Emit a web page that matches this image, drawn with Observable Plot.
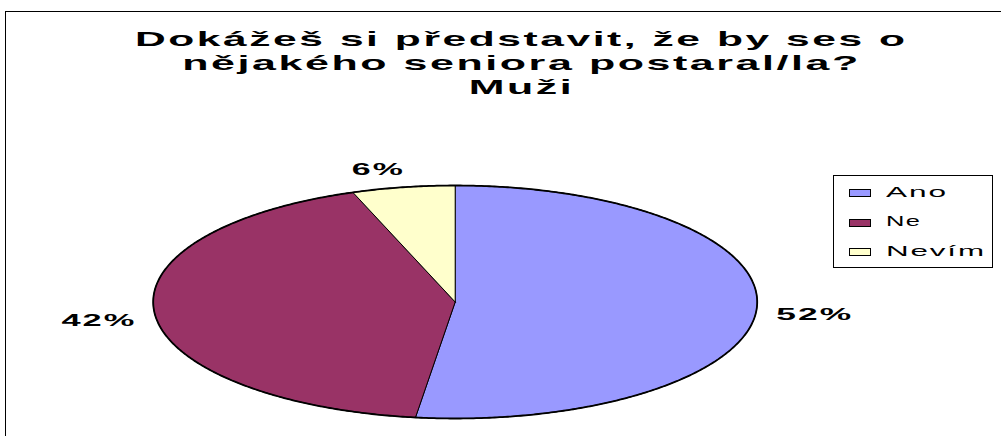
<!DOCTYPE html>
<html>
<head>
<meta charset="utf-8">
<script src="https://cdn.jsdelivr.net/npm/d3@7"></script>
<script src="https://cdn.jsdelivr.net/npm/@observablehq/plot@0.6"></script>
<style>
html, body { margin: 0; padding: 0; background: #fff; }
#chart { position: relative; width: 1001px; height: 436px; overflow: hidden;
  font-family: "Liberation Sans", Arial, Helvetica, sans-serif; color: #000; }
#frame { position: absolute; left: 5px; top: 11px; width: 1200px; height: 800px;
  border-left: 1px solid #000; border-top: 1px solid #000; box-sizing: border-box; }
#chart svg { position: absolute; left: 0; top: 0; }
.tline { position: absolute; display: block; white-space: nowrap; font-weight: bold; font-size: 21px;
  line-height: 24px; letter-spacing: 0.06em; }
#legend { position: absolute; left: 833px; top: 175px; width: 160px; height: 93px;
  border: 1px solid #000; box-sizing: border-box; background: #fff; }
.sw { position: absolute; left: 15px; width: 22px; height: 8px; border: 1px solid #000; box-sizing: border-box; }
.lt { position: absolute; display: block; left: 52px; white-space: nowrap; font-size: 14.5px; line-height: 16px;
  letter-spacing: 0.06em; transform-origin: left center; }
</style>
</head>
<body>
<div id="chart">
  <div id="frame"></div>
</div>
<script>
// ---- data ----
const titleLines = ["Dokážeš si představit, že by ses o", "nějakého seniora postaral/la?", "Muži"];
const categories = ["Ano", "Ne", "Nevím"];
const values = [52.1, 42.4, 5.5];
const colors = ["#9999FF", "#993366", "#FFFFCC"];

// ---- layout constants ----
const W = 1001, H = 436;
const CX0 = 152.7, CX1 = 756.7, CY0 = 418, CY1 = 185;
const chart = document.getElementById("chart");

// ---- pie geometry in unit coordinates ----
const total = d3.sum(values);
let acc = 0;
const slices = categories.map((c, i) => {
  const a0 = acc / total * 2 * Math.PI;
  acc += values[i];
  const a1 = acc / total * 2 * Math.PI;
  return {c, v: values[i], a0, a1};
});
const pts = [];
for (const s of slices) {
  pts.push({c: s.c, x: 0, y: 0});
  const n = Math.max(2, Math.ceil((s.a1 - s.a0) / (Math.PI / 360)));
  for (let k = 0; k <= n; k++) {
    const a = s.a0 + (s.a1 - s.a0) * k / n;
    pts.push({c: s.c, x: Math.sin(a), y: Math.cos(a)});
  }
  pts.push({c: s.c, x: 0, y: 0});
}
const outline = d3.range(0, 721).map(k => {
  const a = k / 720 * 2 * Math.PI;
  return {x: Math.sin(a), y: Math.cos(a)};
});
const labelR = 1.19;
const labels = slices.map(s => {
  const m = (s.a0 + s.a1) / 2;
  const r = Math.abs(Math.sin(m)) < 0.3 ? 1.5 : labelR;
  return {c: s.c, x: r * Math.sin(m), y: labelR * Math.cos(m), t: Math.round(s.v / total * 100) + "%"};
});

const svg = Plot.plot({
  width: W, height: H, margin: 0,
  x: {domain: [-1, 1], range: [CX0, CX1], axis: null},
  y: {domain: [-1, 1], range: [CY0, CY1], axis: null},
  color: {domain: categories, range: colors},
  style: {background: "transparent", overflow: "visible", fontFamily: "'Liberation Sans', Arial, sans-serif"},
  marks: [
    Plot.line(pts, {x: "x", y: "y", z: "c", fill: "c", stroke: "#000", strokeWidth: 1, strokeLinejoin: "round"}),
    Plot.line(outline, {x: "x", y: "y", stroke: "#000", strokeWidth: 1.8}),
    Plot.text(labels, {x: "x", y: "y", text: "t", fontSize: 16.5, fontWeight: "bold", fill: "#000", dy: 4})
  ]
});
chart.appendChild(svg);

// stretch percentage labels like the original
const labelTargets = {"52%": 75, "42%": 73, "6%": 51};
svg.querySelectorAll('g[aria-label="text"] text').forEach(el => {
  const ls = 16.5 * 0.06;
  el.style.letterSpacing = ls + "px";
  const w = el.getBBox().width - ls;
  const target = labelTargets[el.textContent] || w;
  const s = target / w;
  const t = el.getAttribute("transform") || "";
  if (el.hasAttribute("x") && !t) {
    const x = +el.getAttribute("x"), y = +(el.getAttribute("y") || 0);
    el.setAttribute("transform", `translate(${x},${y}) scale(${s},1) translate(${-x + ls / 2},${-y})`);
  } else {
    el.setAttribute("transform", `${t} scale(${s},1) translate(${ls / 2},0)`);
  }
});

// ---- title ----
const titleTargets = [770, 676, 103];
const titleBaselines = [46, 70, 94];
const titleCenter = 520;
titleLines.forEach((line, i) => {
  const sp = document.createElement("span");
  sp.className = "tline";
  sp.textContent = line;
  chart.appendChild(sp);
  const ls = 21 * 0.06;
  const w = sp.getBoundingClientRect().width;
  const s = titleTargets[i] / (w - ls);
  sp.style.left = (titleCenter - (w - ls) / 2) + "px";
  sp.style.top = (titleBaselines[i] - 19.5) + "px";
  sp.style.transformOrigin = `${(w - ls) / 2}px center`;
  sp.style.transform = `scaleX(${s})`;
});

// ---- legend ----
const legend = document.createElement("div");
legend.id = "legend";
chart.appendChild(legend);
const legendTargets = [60, 34, 98];
categories.forEach((c, i) => {
  const sw = document.createElement("div");
  sw.className = "sw";
  sw.style.background = colors[i];
  sw.style.top = (13 + i * 29.6) + "px";
  legend.appendChild(sw);
  const tx = document.createElement("span");
  tx.className = "lt";
  tx.textContent = c;
  tx.style.top = (7.7 + i * 29.6) + "px";
  legend.appendChild(tx);
  const ls = 14.5 * 0.06;
  const w = tx.getBoundingClientRect().width;
  tx.style.transform = `scaleX(${legendTargets[i] / (w - ls)})`;
});
</script>
</body>
</html>
